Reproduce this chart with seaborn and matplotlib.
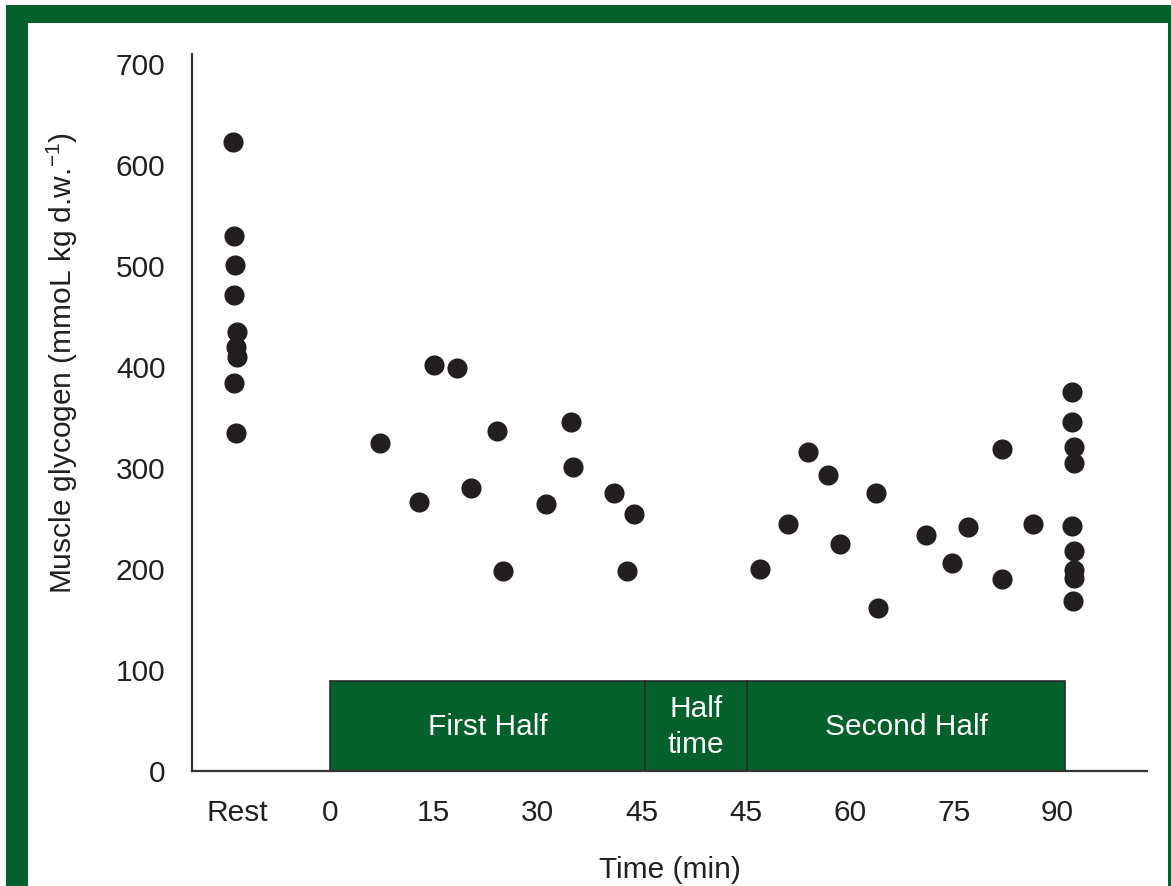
import matplotlib
matplotlib.use("Agg")
import matplotlib.pyplot as plt
from matplotlib.patches import Rectangle
import numpy as np
import pandas as pd
import seaborn as sns

# Muscle glycogen (mmol/kg dry weight) sampled at rest, during each half and at the end
rest_offsets = [-14.0, -13.9, -13.7, -13.9, -13.4, -13.6, -13.4, -13.9, -13.6]
rest_glycogen = [623, 530, 501, 471, 435, 420, 410, 384, 335]

first_half_min = [7.2, 12.8, 15.0, 18.3, 20.3, 24.1, 25.0, 31.2, 34.8, 35.1, 41.0, 42.9, 43.9]
first_half_glycogen = [325, 266, 402, 399, 280, 337, 198, 264, 346, 301, 275, 198, 254]

second_half_min = [47.0, 51.1, 54.0, 56.9, 58.6, 63.8, 64.1, 71.0, 74.8, 77.1, 82.0, 82.0, 86.4]
second_half_glycogen = [200, 245, 316, 293, 225, 275, 161, 234, 206, 242, 319, 190, 245]

end_min = [92.1, 92.1, 92.4, 92.4, 92.1, 92.4, 92.4, 92.4, 92.2]
end_glycogen = [375, 346, 321, 305, 243, 218, 199, 191, 168]

# Axis layout: half time occupies 15 axis units between the halves
HALFTIME = 15
tick_pos = [-13.4, 0, 15, 30, 45, 60, 75, 90, 105]
tick_labels = ["Rest", "0", "15", "30", "45", "45", "60", "75", "90"]
phase_names = ["First Half", "Half\ntime", "Second Half"]
phase_edges = [0, 45.5, 60.2, 106.1]
phase_height = 89

GREEN = "#04612B"
INK = "#231F20"
FS = 21.5

df = pd.concat([
    pd.DataFrame({"x": rest_offsets, "glycogen": rest_glycogen}),
    pd.DataFrame({"x": first_half_min, "glycogen": first_half_glycogen}),
    pd.DataFrame({"x": np.array(second_half_min) + HALFTIME, "glycogen": second_half_glycogen}),
    pd.DataFrame({"x": np.array(end_min) + HALFTIME, "glycogen": end_glycogen}),
], ignore_index=True)

sns.set_style("white")
plt.rcParams["font.family"] = ["Liberation Sans", "DejaVu Sans"]

fig = plt.figure(figsize=(11.71, 8.86), dpi=100)
fig.patch.set_facecolor("white")

# Green frame around the panel
W, H = 1171, 886
fig.patches.append(Rectangle((6 / W, 0), 1 - 6 / W, (H - 5) / H, transform=fig.transFigure,
                             facecolor=GREEN, edgecolor="none", zorder=-2))
fig.patches.append(Rectangle((28 / W, 0), (1168 - 28) / W, (H - 23) / H, transform=fig.transFigure,
                             facecolor="white", edgecolor="none", zorder=-1))

ax = fig.add_axes([192 / W, (H - 771) / H, (1147 - 192) / W, (771 - 54) / H])
ax.set_facecolor("none")

# Match phases as green blocks along the bottom
for i, name in enumerate(phase_names):
    x0, x1 = phase_edges[i], phase_edges[i + 1]
    ax.add_patch(Rectangle((x0, 0), x1 - x0, phase_height, facecolor=GREEN,
                           edgecolor="#2a2a2a", linewidth=1.2, zorder=1))
    ax.text((x0 + x1) / 2, phase_height / 2 - 1, name, color="white", ha="center", va="center",
            fontsize=FS, linespacing=1.4, zorder=2)

sns.scatterplot(data=df, x="x", y="glycogen", ax=ax, color=INK, s=210,
                linewidth=0, zorder=3, legend=False)

ax.set_xlim(-19.9, 117.9)
ax.set_ylim(0, 710)
ax.set_xticks(tick_pos)
ax.set_xticklabels(tick_labels)
ax.set_yticks(range(0, 701, 100))
ax.tick_params(axis="both", length=0, labelsize=FS, colors=INK)
ax.tick_params(axis="x", pad=20)
ax.tick_params(axis="y", pad=19)

for side in ["top", "right"]:
    ax.spines[side].set_visible(False)
for side in ["left", "bottom"]:
    ax.spines[side].set_color("#333333")
    ax.spines[side].set_linewidth(1.6)

ax.set_xlabel("Time (min)", fontsize=FS, color=INK, labelpad=21)
ax.set_ylabel("Muscle glycogen (mmoL kg d.w.$^{\\mathregular{-1}}$)", fontsize=FS, color=INK)
ax.yaxis.set_label_coords(-0.117, 0.569)

fig.savefig("out.png", dpi=100)
